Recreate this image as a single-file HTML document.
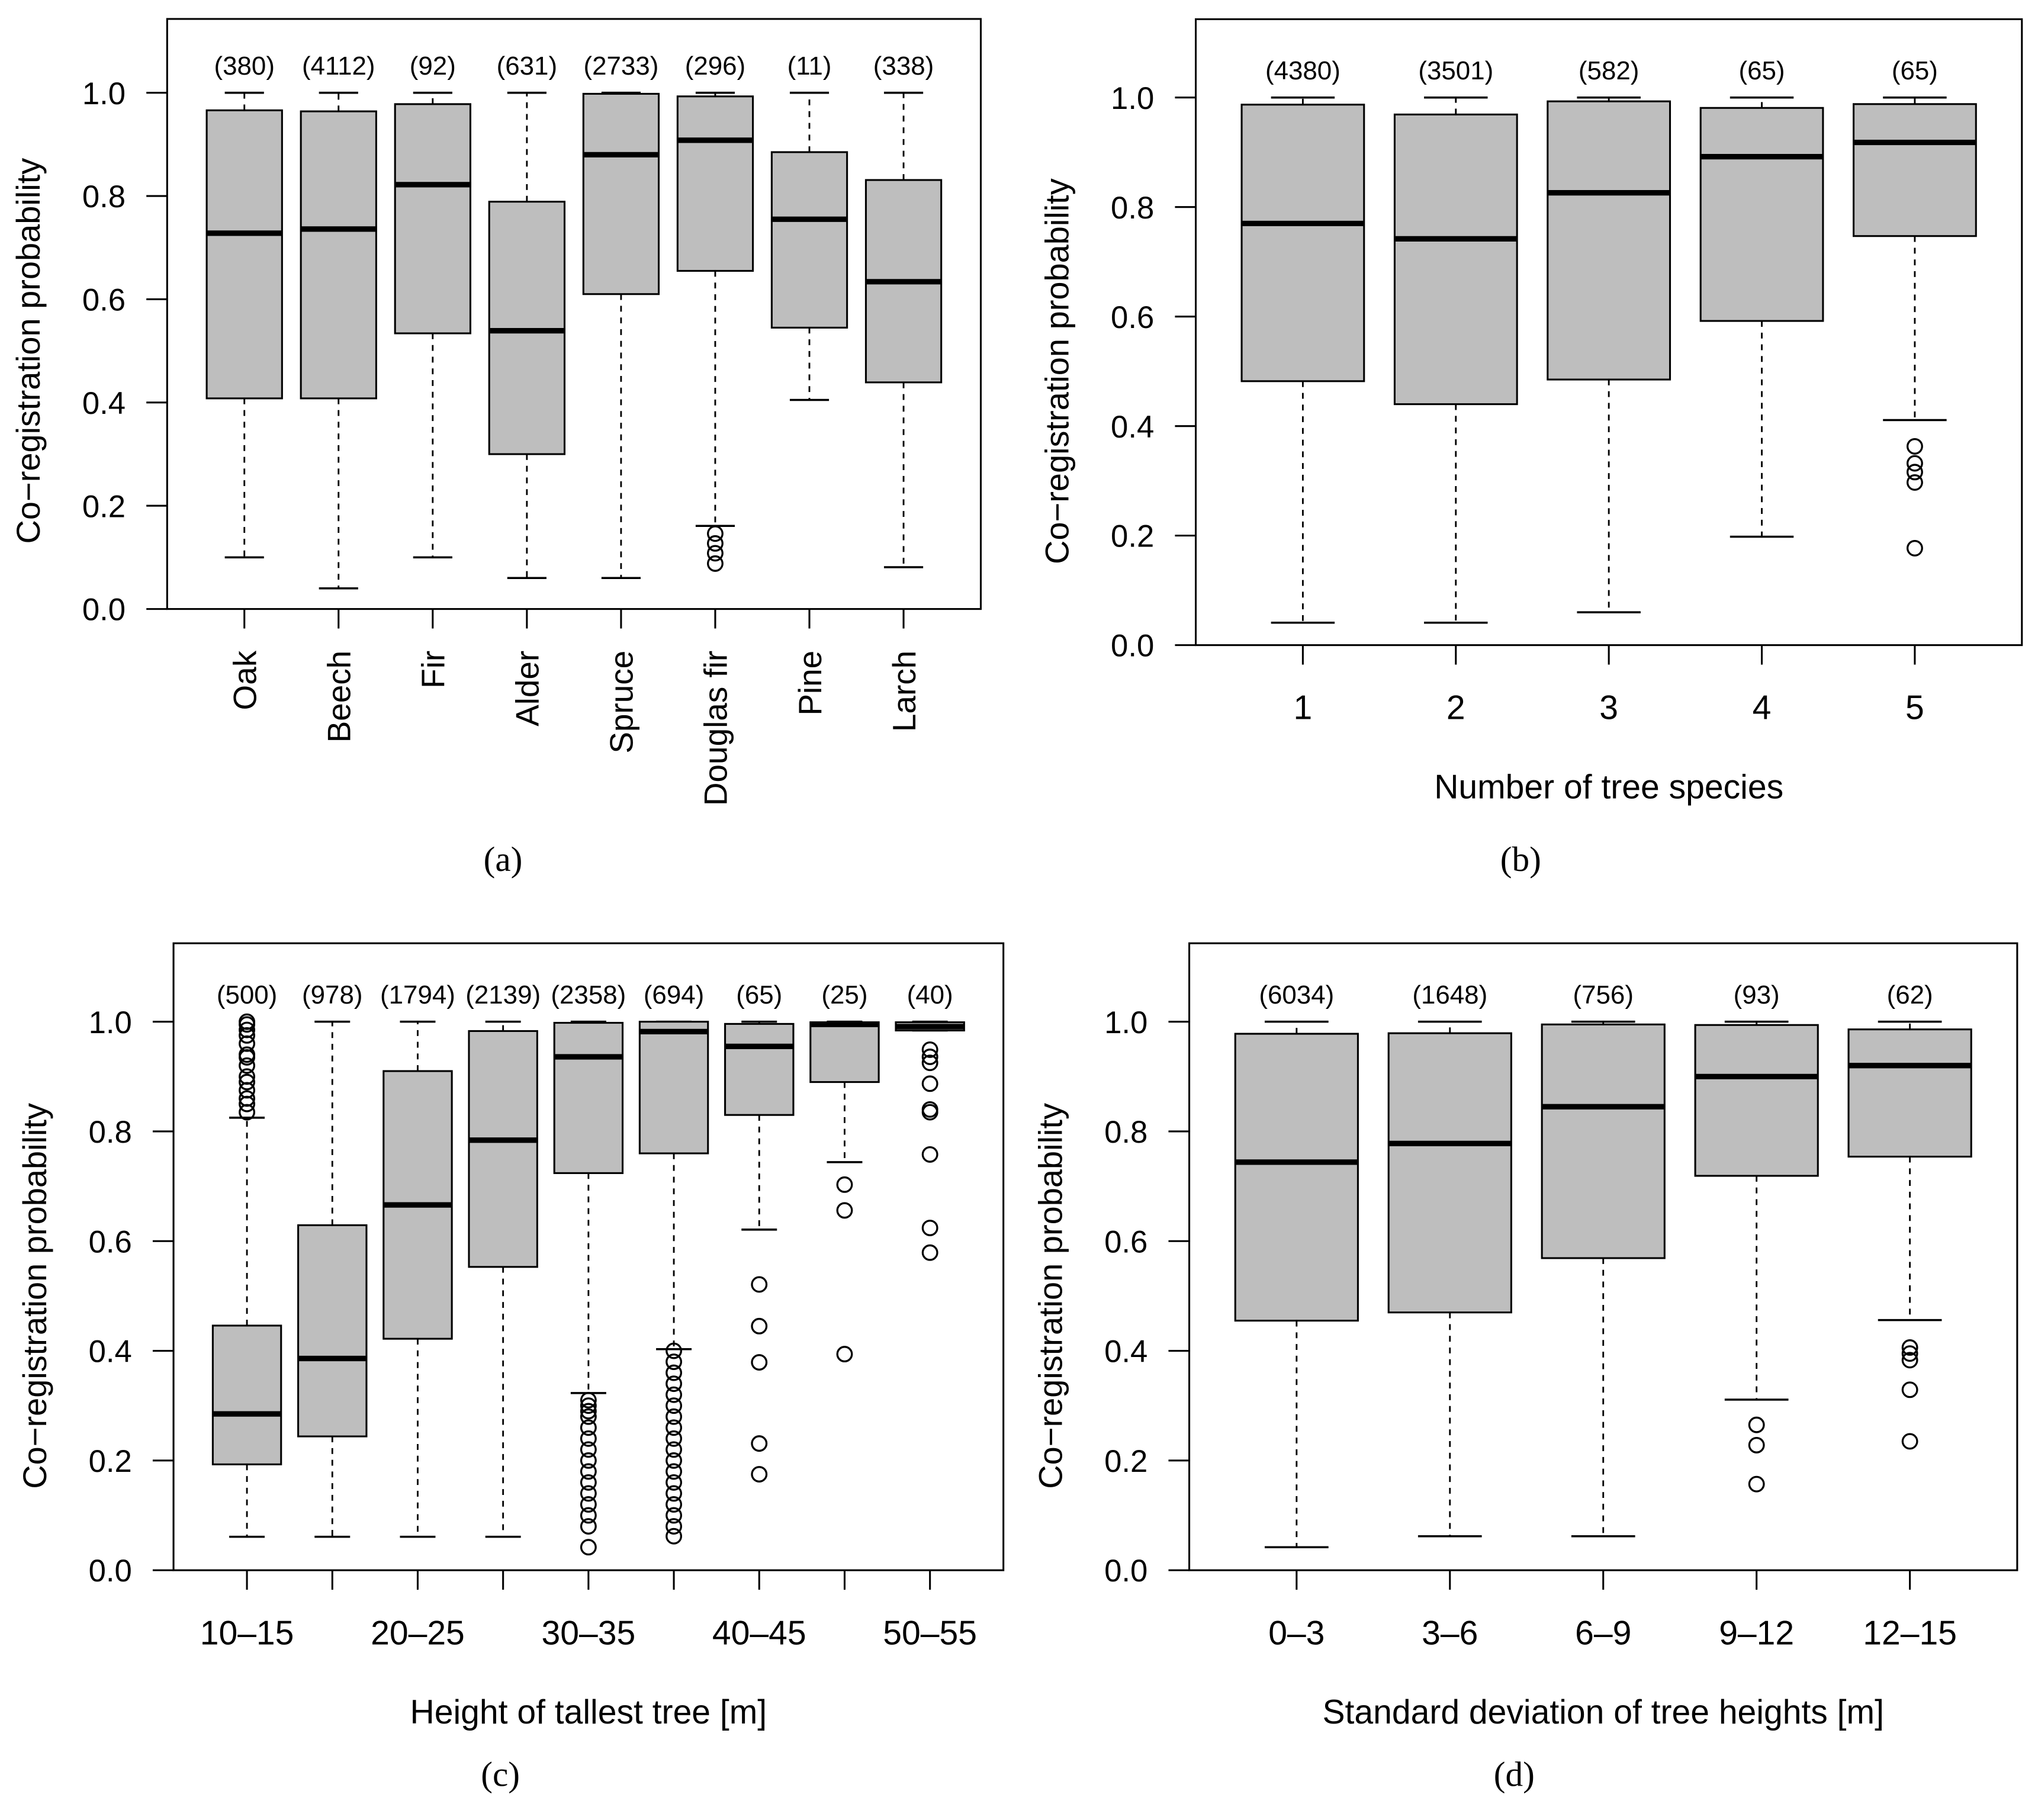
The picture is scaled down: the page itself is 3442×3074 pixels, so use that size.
<!DOCTYPE html>
<html><head><meta charset="utf-8">
<style>
html,body{margin:0;padding:0;background:#fff;}
svg{display:block;font-family:"Liberation Sans",sans-serif;}
</style></head>
<body>
<svg id="chart" width="3442" height="3074" viewBox="0 0 1568 1400" xmlns="http://www.w3.org/2000/svg">
<rect x="0" y="0" width="1568" height="1400" fill="#fff"/>
</svg>
<script>
// ---- Panel (a): tree species ----
const catsA = ["Oak","Beech","Fir","Alder","Spruce","Douglas fir","Pine","Larch"];
const countsA = [380,4112,92,631,2733,296,11,338];
const loA  = [0.10,0.04,0.10,0.06,0.06,0.161,0.405,0.081];
const q1A  = [0.408,0.408,0.534,0.30,0.61,0.655,0.545,0.439];
const medA = [0.728,0.736,0.822,0.539,0.88,0.908,0.755,0.634];
const q3A  = [0.966,0.964,0.978,0.789,0.998,0.993,0.885,0.831];
const hiA  = [1.0,1.0,1.0,1.0,1.0,1.0,1.0,1.0];
const outA = [[],[],[],[],[],[0.146,0.127,0.108,0.088],[],[]];
// ---- Panel (b): number of species ----
const catsB = ["1","2","3","4","5"];
const countsB = [4380,3501,582,65,65];
const loB  = [0.041,0.041,0.060,0.198,0.411];
const q1B  = [0.482,0.440,0.485,0.592,0.747];
const medB = [0.770,0.742,0.826,0.892,0.918];
const q3B  = [0.987,0.969,0.993,0.981,0.988];
const hiB  = [1.0,1.0,1.0,1.0,1.0];
const outB = [[],[],[],[],[0.363,0.332,0.316,0.297,0.177]];
// ---- Panel (c): height of tallest tree ----
const catsC = ["10–15","15–20","20–25","25–30","30–35","35–40","40–45","45–50","50–55"];
const shownC = [true,false,true,false,true,false,true,false,true];
const countsC = [500,978,1794,2139,2358,694,65,25,40];
const loC  = [0.061,0.061,0.061,0.061,0.323,0.403,0.621,0.744,0.984];
const q1C  = [0.193,0.244,0.422,0.553,0.724,0.760,0.830,0.890,0.984];
const medC = [0.285,0.386,0.666,0.784,0.936,0.982,0.955,0.995,0.991];
const q3C  = [0.446,0.629,0.910,0.983,0.998,1.0,0.996,0.999,0.999];
const hiC  = [0.825,1.0,1.0,1.0,1.0,1.0,1.0,1.0,1.0];
const outC = [
 [0.835,0.85,0.86,0.875,0.89,0.90,0.92,0.935,0.94,0.96,0.975,0.985,0.995,1.0],
 [],[],[],
 [0.042,0.08,0.10,0.12,0.14,0.16,0.18,0.20,0.22,0.24,0.26,0.28,0.29,0.30,0.31],
 [0.062,0.08,0.10,0.12,0.14,0.16,0.18,0.20,0.22,0.24,0.26,0.28,0.30,0.32,0.34,0.36,0.38,0.40],
 [0.521,0.445,0.379,0.231,0.175],
 [0.703,0.656,0.394],
 [0.949,0.936,0.925,0.887,0.840,0.835,0.758,0.624,0.579]
];
// ---- Panel (d): SD of tree heights ----
const catsD = ["0–3","3–6","6–9","9–12","12–15"];
const countsD = [6034,1648,756,93,62];
const loD  = [0.042,0.062,0.062,0.311,0.456];
const q1D  = [0.455,0.470,0.569,0.719,0.754];
const medD = [0.744,0.778,0.845,0.900,0.920];
const q3D  = [0.978,0.979,0.995,0.994,0.986];
const hiD  = [1.0,1.0,1.0,1.0,1.0];
const outD = [[],[],[],[0.265,0.228,0.157],[0.406,0.395,0.383,0.329,0.235]];
const yTicks = [0,0.2,0.4,0.6,0.8,1.0];
const yTickLabels = ["0.0","0.2","0.4","0.6","0.8","1.0"];
const yMax = 1.143;

const NS="http://www.w3.org/2000/svg";
const svg=document.getElementById('chart');
function mk(tag,attrs,parent){const e=document.createElementNS(NS,tag);for(const k in attrs)e.setAttribute(k,attrs[k]);(parent||svg).appendChild(e);return e;}

function panel(cfg,cats,counts,lo,q1,med,q3,hi,out,shown){
  const g=mk('g',{});
  
  
  const yS=v=>cfg.B-(cfg.B-cfg.T)/yMax*v;
  const n=cats.length;
  const step=(cfg.R-cfg.L)/(1.08*n);
  const xS=i=>cfg.L+step*(0.5+0.04*n+i);
  const bw=step*0.8;
  const frame=mk('rect',{x:cfg.L,y:cfg.T,width:cfg.R-cfg.L,height:cfg.B-cfg.T,fill:'none',stroke:'#000','stroke-width':1.4},g);
  
  
  yTicks.forEach((v,i)=>{
    mk('line',{x1:cfg.L-16,x2:cfg.L,y1:yS(v),y2:yS(v),stroke:'#000','stroke-width':1.4},g);
    const t=mk('text',{x:cfg.L-32,y:yS(v)+8.7,'text-anchor':'end','font-size':24},g);
    t.textContent=yTickLabels[i];
    
    
  });
  const yt=mk('text',{x:0,y:0,'text-anchor':'middle','font-size':25.5,transform:`translate(${cfg.L-98},${(yS(0)+yS(1))/2}) rotate(-90)`},g);
  yt.textContent='Co\u2212registration probability';
  
  
  cats.forEach((c,i)=>{
    const x=xS(i);
    mk('line',{x1:x,x2:x,y1:cfg.B,y2:cfg.B+15,stroke:'#000','stroke-width':1.4},g);
    if(!shown||shown[i]){
      let t;
      if(cfg.rot){t=mk('text',{x:0,y:0,'text-anchor':'end','font-size':25,transform:`translate(${x+9},${cfg.B+32}) rotate(-90)`},g);}
      else{t=mk('text',{x:x,y:cfg.B+57,'text-anchor':'middle','font-size':26},g);}
      t.textContent=c;
      
      
    }
    const bg=mk('g',{},g);
    
    
    mk('line',{x1:x,x2:x,y1:yS(q3[i]),y2:yS(hi[i]),stroke:'#000','stroke-width':1.3,'stroke-dasharray':'4.5,4.5'},bg);
    mk('line',{x1:x,x2:x,y1:yS(q1[i]),y2:yS(lo[i]),stroke:'#000','stroke-width':1.3,'stroke-dasharray':'4.5,4.5'},bg);
    mk('line',{x1:x-bw*0.26,x2:x+bw*0.26,y1:yS(hi[i]),y2:yS(hi[i]),stroke:'#000','stroke-width':1.6},bg);
    mk('line',{x1:x-bw*0.26,x2:x+bw*0.26,y1:yS(lo[i]),y2:yS(lo[i]),stroke:'#000','stroke-width':1.6},bg);
    mk('rect',{x:x-bw/2,y:yS(q3[i]),width:bw,height:yS(q1[i])-yS(q3[i]),fill:'#bebebe',stroke:'#000','stroke-width':1.4},bg);
    mk('line',{x1:x-bw/2,x2:x+bw/2,y1:yS(med[i]),y2:yS(med[i]),stroke:'#000','stroke-width':4.2},bg);
    out[i].forEach(v=>{
      const o=mk('circle',{cx:x,cy:yS(v),r:5.6,fill:'none',stroke:'#000','stroke-width':1.5},bg);
      
      
    });
    const nt=mk('text',{x:x,y:yS(1)-14,'text-anchor':'middle','font-size':20},g);
    nt.textContent='('+counts[i]+')';
    
    
  });
  if(cfg.xtitle){
    const xt=mk('text',{x:(cfg.L+cfg.R)/2,y:cfg.B+118,'text-anchor':'middle','font-size':26},g);
    xt.textContent=cfg.xtitle;
    
    
  }
  const cap=mk('text',{x:cfg.capX,y:cfg.capY,'text-anchor':'middle','font-size':27,'font-family':'"Liberation Serif",serif'},g);
  cap.textContent=cfg.cap;
  
  
}

panel({name:'panel-a-species',L:128.6,R:754.6,T:14.4,B:468.4,rot:true,cap:'(a)',capX:387,capY:670},catsA,countsA,loA,q1A,medA,q3A,hiA,outA);
panel({name:'panel-b-species-count',L:920,R:1555.6,T:14.6,B:496.2,xtitle:'Number of tree species',cap:'(b)',capX:1170,capY:670},catsB,countsB,loB,q1B,medB,q3B,hiB,outB);
panel({name:'panel-c-tallest-tree',L:133.5,R:772,T:725.6,B:1208,xtitle:'Height of tallest tree [m]',cap:'(c)',capX:385,capY:1374},catsC,countsC,loC,q1C,medC,q3C,hiC,outC,shownC);
panel({name:'panel-d-height-sd',L:915,R:1552,T:725.6,B:1208,xtitle:'Standard deviation of tree heights [m]',cap:'(d)',capX:1165,capY:1374},catsD,countsD,loD,q1D,medD,q3D,hiD,outD);
</script>
</body></html>
